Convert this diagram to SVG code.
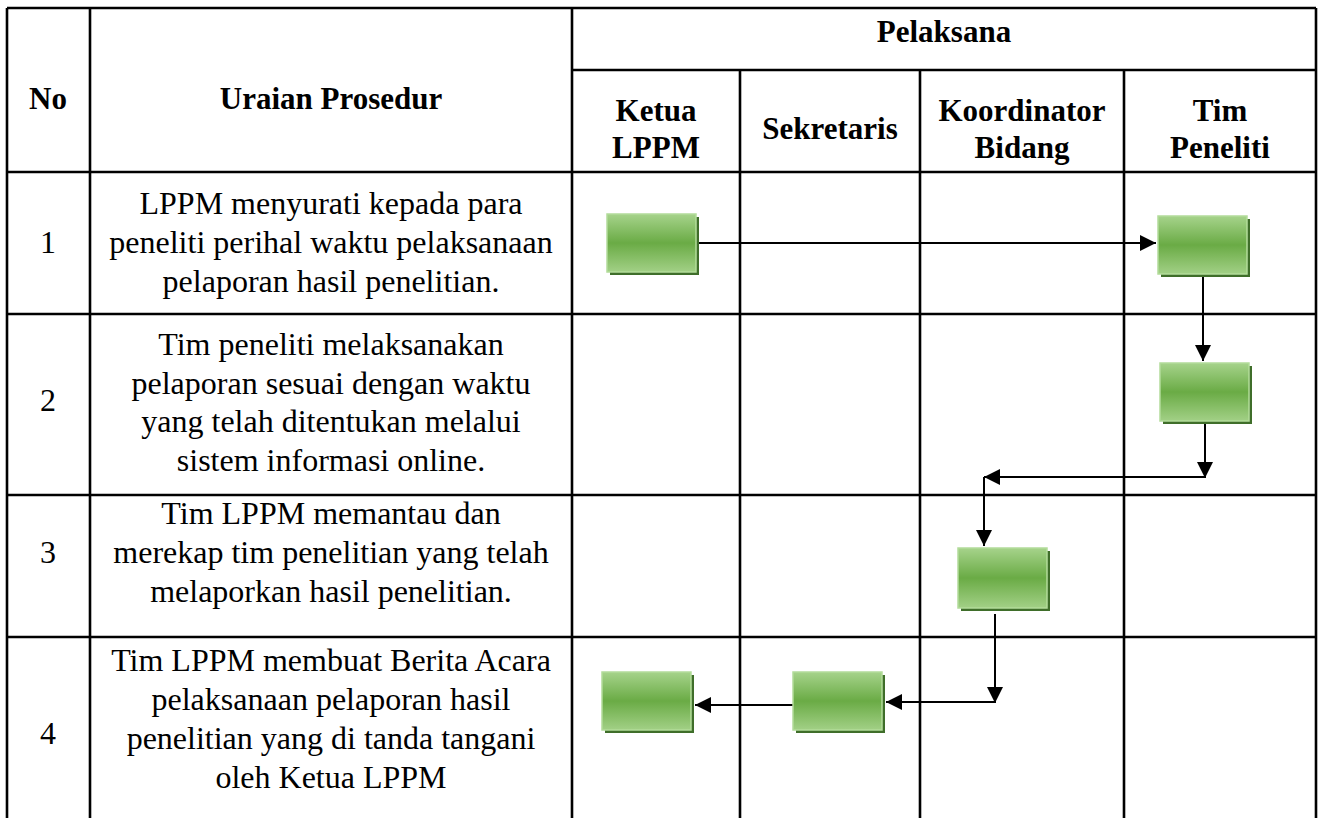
<svg xmlns="http://www.w3.org/2000/svg" width="1321" height="818" viewBox="0 0 1321 818">
<style>
.grid{stroke:#000;stroke-width:2.6;fill:none}
.h{font-family:"Liberation Serif","Times New Roman",serif;font-weight:bold;font-size:31px;text-anchor:middle;fill:#000}
.t{font-family:"Liberation Serif","Times New Roman",serif;font-size:32px;text-anchor:middle;fill:#000}
.box{fill:url(#g);stroke:#b3dc9a;stroke-width:1.5}
.sh{fill:#3f6e2a}
.c{stroke:#000;stroke-width:2;fill:none}
</style>
<defs>
<linearGradient id="g" x1="0" y1="0" x2="0" y2="1">
<stop offset="0" stop-color="#a6d38b"/>
<stop offset="0.5" stop-color="#6aab45"/>
<stop offset="1" stop-color="#a2d086"/>
</linearGradient>
<marker id="a" markerUnits="userSpaceOnUse" markerWidth="16" markerHeight="16" viewBox="0 0 16 16" refX="16" refY="8" orient="auto">
<path d="M0,0 L16,8 L0,16 z" fill="#000"/>
</marker>
</defs>
<rect width="1321" height="818" fill="#fff"/>
<g id="table">
<path class="grid" d="M7,8 H1316 M572,70 H1316 M7,172 H1316 M7,314 H1316 M7,495 H1316 M7,637 H1316 M7,8 V818 M90,8 V818 M572,8 V818 M740,70 V818 M920,70 V818 M1124,70 V818 M1316,8 V818"/>
<text class="h" x="944" y="42">Pelaksana</text>
<text class="h" x="48" y="109">No</text>
<text class="h" x="331" y="109">Uraian Prosedur</text>
<text class="h" x="656" y="121">Ketua</text>
<text class="h" x="656" y="158">LPPM</text>
<text class="h" x="830" y="139">Sekretaris</text>
<text class="h" x="1022" y="121">Koordinator</text>
<text class="h" x="1022" y="158">Bidang</text>
<text class="h" x="1220" y="121">Tim</text>
<text class="h" x="1220" y="158">Peneliti</text>
<text class="t" x="48" y="253">1</text>
<text class="t" x="331" y="214">LPPM menyurati kepada para</text>
<text class="t" x="331" y="253">peneliti perihal waktu pelaksanaan</text>
<text class="t" x="331" y="292">pelaporan hasil penelitian.</text>
<text class="t" x="48" y="411">2</text>
<text class="t" x="331" y="355">Tim peneliti melaksanakan</text>
<text class="t" x="331" y="394">pelaporan sesuai dengan waktu</text>
<text class="t" x="331" y="432">yang telah ditentukan melalui</text>
<text class="t" x="331" y="471">sistem informasi online.</text>
<text class="t" x="48" y="563">3</text>
<text class="t" x="331" y="524">Tim LPPM memantau dan</text>
<text class="t" x="331" y="563">merekap tim penelitian yang telah</text>
<text class="t" x="331" y="602">melaporkan hasil penelitian.</text>
<text class="t" x="48" y="744">4</text>
<text class="t" x="331" y="671">Tim LPPM membuat Berita Acara</text>
<text class="t" x="331" y="710">pelaksanaan pelaporan hasil</text>
<text class="t" x="331" y="749">penelitian yang di tanda tangani</text>
<text class="t" x="331" y="788">oleh Ketua LPPM</text>
</g>
<g id="connectors">
<path class="c" d="M697,243 H1156" marker-end="url(#a)"/>
<path class="c" d="M1203,276 V361" marker-end="url(#a)"/>
<path class="c" d="M1205,424 V478" marker-end="url(#a)"/>
<path class="c" d="M1205,477 H984" marker-end="url(#a)"/>
<path class="c" d="M984,477 V546" marker-end="url(#a)"/>
<path class="c" d="M995,614 V703" marker-end="url(#a)"/>
<path class="c" d="M995,702 H886" marker-end="url(#a)"/>
<path class="c" d="M793,705 H695" marker-end="url(#a)"/>
</g>
<g id="n1"><rect class="sh" x="610" y="217" width="89" height="58"/><rect class="box" x="607" y="214" width="89" height="58"/></g>
<g id="n2"><rect class="sh" x="1161" y="219" width="89" height="58"/><rect class="box" x="1158" y="216" width="89" height="58"/></g>
<g id="n3"><rect class="sh" x="1163" y="366" width="89" height="58"/><rect class="box" x="1160" y="363" width="89" height="58"/></g>
<g id="n4"><rect class="sh" x="961" y="551" width="89" height="60"/><rect class="box" x="958" y="548" width="89" height="60"/></g>
<g id="n5"><rect class="sh" x="796" y="675" width="89" height="58"/><rect class="box" x="793" y="672" width="89" height="58"/></g>
<g id="n6"><rect class="sh" x="605" y="675" width="89" height="58"/><rect class="box" x="602" y="672" width="89" height="58"/></g>
</svg>
